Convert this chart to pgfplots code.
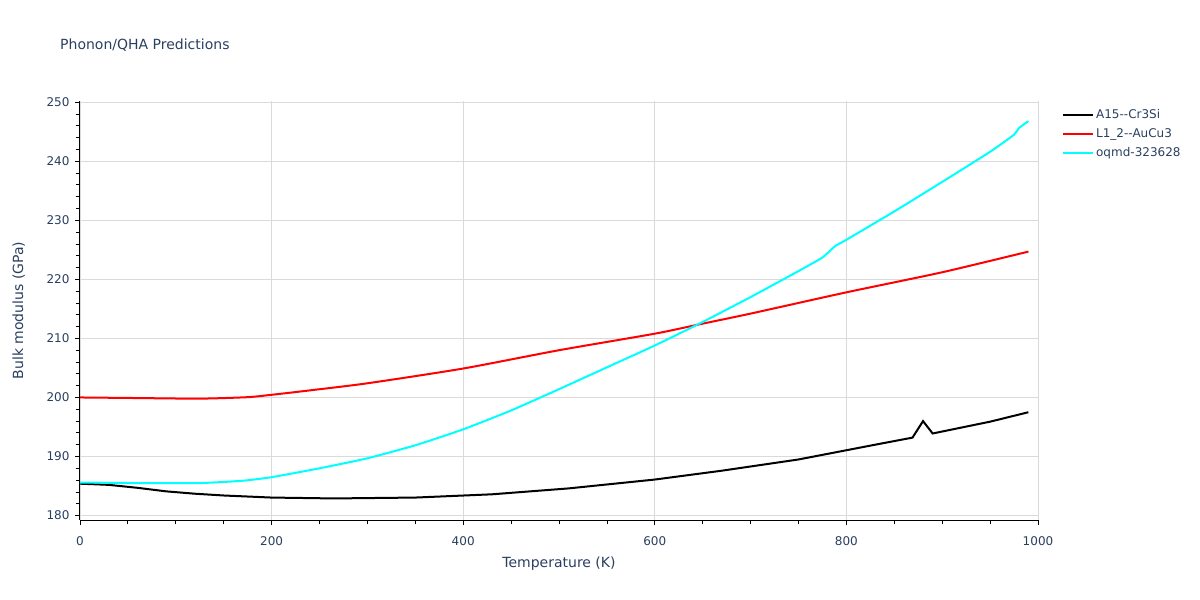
\documentclass[border=0pt]{standalone}
\usepackage{pgfplots}
\pgfplotsset{compat=1.18}
\usepackage{fontspec}
\setmainfont{DejaVu Sans}
\definecolor{plotlytext}{HTML}{2A3F5F}
\definecolor{gridgray}{HTML}{DADADA}
\definecolor{cyanline}{HTML}{00FFFF}

\begin{document}
\begin{tikzpicture}[x=1pt,y=1pt]
  \begin{axis}[
    at={(0,0)}, anchor=south west,
    scale only axis,
    width=958pt, height=419pt,
    xmin=0, xmax=1000,
    ymin=179.25, ymax=250.2,
    xtick={0,200,...,1000},
    ytick={180,190,...,250},
    minor x tick num=3,
    minor y tick num=4,
    axis x line*=bottom,
    axis y line*=left,
    axis line style={black, line width=1pt, -},
    tick align=outside,
    major tick length=5pt,
    minor tick length=4pt,
    tick style={black, line width=0.8pt},
    xmajorgrids, ymajorgrids,
    major grid style={gridgray, line width=0.8pt},
    /pgf/number format/assume math mode=true,
    /pgf/number format/1000 sep={},
    ticklabel style={font=\fontsize{12}{14}\selectfont, text=plotlytext},
    xticklabel style={yshift=-8pt},
    yticklabel style={xshift=-2pt},
    xlabel={Temperature (K)},
    ylabel={Bulk modulus (GPa)},
    label style={font=\fontsize{14}{16}\selectfont, text=plotlytext},
    xlabel style={at={(axis description cs:0.5,-0.103)}, anchor=center},
    ylabel style={at={(axis description cs:-0.064,0.5)}, anchor=center},
    legend style={at={(1.025,0.985)}, anchor=north west, draw=none, fill=none,
      font=\fontsize{12}{14}\selectfont, text=plotlytext, row sep=4.5pt,
      inner sep=0pt},
    legend cell align=left,
    legend image code/.code={\draw[#1, line width=2pt] (0pt,0pt) -- (30pt,0pt);},
    clip=true,
  ]
  \addplot[black, line width=2pt] coordinates {
    (0,185.4) (30,185.2) (60,184.7) (90,184.1) (120,183.7) (150,183.4) (200,183.05) (265,182.9)
    (350,183.05) (430,183.6) (510,184.6) (600,186.1) (670,187.6) (750,189.5)
    (830,192.0) (869,193.2) (880,196.0) (890,193.9) (950,195.9) (990,197.5)
  };
  \addlegendentry{A15-{}-Cr3Si}
  \addplot[red, line width=2pt, smooth, tension=0.4] coordinates {
    (0,200.0) (60,199.9) (125,199.8) (175,200.05) (200,200.45) (240,201.2)
    (300,202.4) (400,204.9) (500,208.0) (600,210.8) (650,212.5) (700,214.2)
    (800,217.8) (900,221.2) (990,224.7)
  };
  \addlegendentry{L1\_2-{}-AuCu3}
  \addplot[cyanline, line width=2pt, smooth, tension=0.3] coordinates {
    (0,185.6) (60,185.5) (125,185.5) (170,185.9) (200,186.5) (250,188.0)
    (300,189.7) (350,191.9) (400,194.6) (450,197.8) (500,201.4) (550,205.1)
    (600,208.8) (649,212.7) (700,217.0) (750,221.4) (775,223.7) (788,225.6)
    (800,226.7) (850,231.5) (900,236.5) (950,241.6) (975,244.5) (980,245.6)
    (990,246.8)
  };
  \addlegendentry{oqmd-323628}
  \end{axis}
  \node[anchor=west, inner sep=0pt, text=plotlytext, font=\fontsize{14}{16}\selectfont] at (-20,475) {Phonon/QHA Predictions};
  \pgfresetboundingbox
  \path[use as bounding box] (-80,-80) rectangle (1120,520);
\end{tikzpicture}
\end{document}
